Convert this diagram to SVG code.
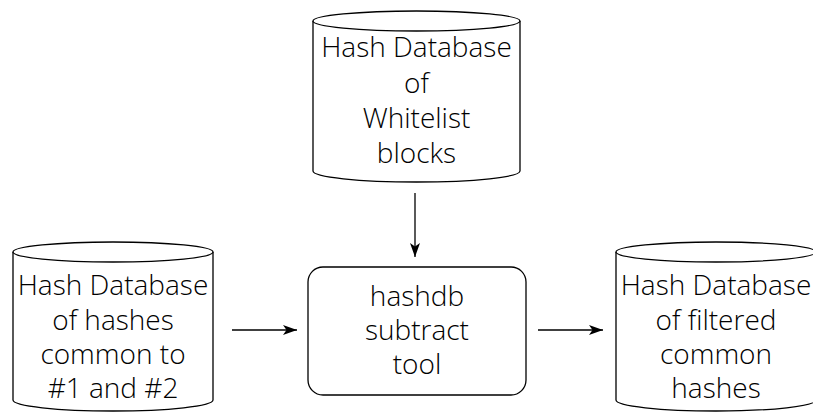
<svg xmlns="http://www.w3.org/2000/svg" width="813" height="413" viewBox="0 0 813 413">
<style>
.shape{fill:#fff;stroke:#000;stroke-width:1.3}
.lbl{font-family:"Open Sans","Noto Sans","DejaVu Sans",sans-serif;font-weight:300;font-size:28px;fill:#000;text-anchor:middle}
.edge{fill:none;stroke:#000;stroke-width:1.3}
</style>
<defs>
<marker id="ah" viewBox="0 0 14 10" refX="14" refY="5" markerWidth="14" markerHeight="10" markerUnits="userSpaceOnUse" orient="auto">
<path d="M0,0 L14,5 L0,10 L3.5,5 Z" fill="#000"/>
</marker>
</defs>
<g id="whitelist">
<path class="shape" d="M313,21 V171 A103.5,11 0 0 0 520,171 V21"/>
<ellipse class="shape" cx="416.5" cy="21" rx="103.5" ry="10"/>
<text class="lbl" x="416.5" y="57">Hash Database</text>
<text class="lbl" x="416.5" y="92.5">of</text>
<text class="lbl" x="416.5" y="128">Whitelist</text>
<text class="lbl" x="416.5" y="163">blocks</text>
</g>
<g id="common">
<path class="shape" d="M13,252 V400 A100,11 0 0 0 213,400 V252"/>
<ellipse class="shape" cx="113" cy="252" rx="100" ry="10"/>
<text class="lbl" x="113" y="295">Hash Database</text>
<text class="lbl" x="113" y="330">of hashes</text>
<text class="lbl" x="113" y="364">common to</text>
<text class="lbl" x="113" y="398">#1 and #2</text>
</g>
<g id="tool">
<rect class="shape" x="308" y="267" width="218" height="128" rx="15" ry="15"/>
<text class="lbl" x="417" y="306">hashdb</text>
<text class="lbl" x="417" y="340">subtract</text>
<text class="lbl" x="417" y="374">tool</text>
</g>
<g id="filtered">
<path class="shape" d="M616,252 V400 A100,11 0 0 0 816,400 V252"/>
<ellipse class="shape" cx="716" cy="252" rx="100" ry="10"/>
<text class="lbl" x="716" y="295">Hash Database</text>
<text class="lbl" x="716" y="330">of filtered</text>
<text class="lbl" x="716" y="364">common</text>
<text class="lbl" x="716" y="398">hashes</text>
</g>
<g id="connectors">
<line class="edge" x1="415" y1="193" x2="415" y2="257" marker-end="url(#ah)"/>
<line class="edge" x1="232" y1="330" x2="297" y2="330" marker-end="url(#ah)"/>
<line class="edge" x1="538" y1="330" x2="603" y2="330" marker-end="url(#ah)"/>
</g>
</svg>
